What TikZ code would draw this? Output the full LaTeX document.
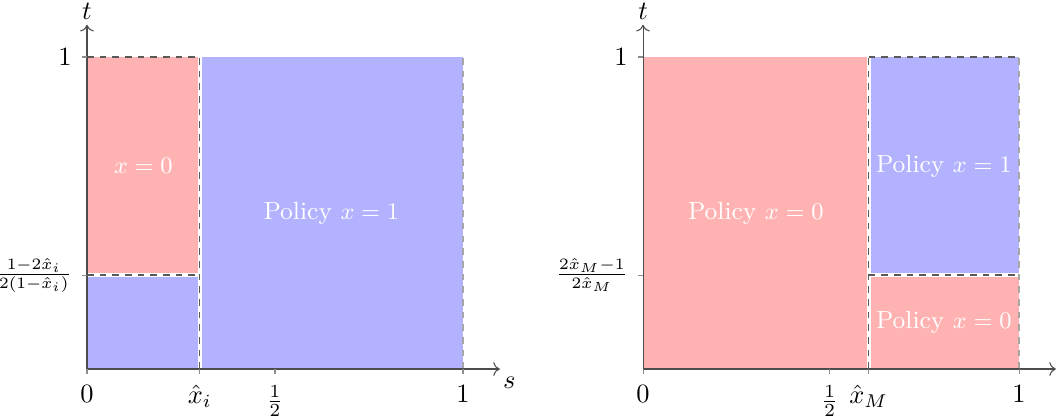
\documentclass[tikz,border=0pt]{standalone}
\usetikzlibrary{arrows.meta}

\begin{document}
\begin{tikzpicture}[x=5cm,y=4.149cm,
    redzone/.style={fill=red!30},
    bluezone/.style={fill=blue!30},
    gap/.style={white,line width=1.5pt},
    cut/.style={black!65,line width=0.45pt,dash pattern=on 2.5pt off 2.3pt},
    edge/.style={cut,black!35},
    axisline/.style={->,black!70,line width=0.4pt},
    tickmark/.style={black!45,line width=0.4pt},
    xlab/.style={anchor=north,inner sep=0pt,yshift=-6pt},
    ylab/.style={anchor=east,inner sep=0pt,xshift=-5.6pt},
    fraclab/.style={ylab,font=\fontsize{8.6pt}{10pt}\selectfont},
    policy/.style={white,font=\fontsize{9.4pt}{11pt}\selectfont}]
  \useasboundingbox (-1.157cm,-0.638cm) rectangle (12.939cm,4.907cm);

  % left panel: threshold x_i
  \begin{scope}
    \fill[bluezone] (0,0) rectangle (1,1);
    \fill[redzone] (0,0.301) rectangle (0.3,1);
    \draw[gap] (0.3,0) -- (0.3,1);
    \draw[gap] (0,0.301) -- (0.3,0.301);
    \foreach \p/\q in {{0,1}/{0.3,1},{0.3,0}/{0.3,1},{0,0.301}/{0.3,0.301}}
      \draw[cut] (\p) -- (\q);
    \draw[edge] (1,0) -- (1,1);
    \node[policy] (redL) at (0.15,0.65) {$x=0$};
    \node[policy] (blueL) at (0.65,0.5) {Policy $x=1$};
    \draw[axisline] (0,0) -- (1.098,0) coordinate (sTipL);
    \draw[axisline] (0,0) -- (0,1.103) coordinate (tTipL);
    \node[anchor=south,inner sep=2pt] (tLabL) at (tTipL) {$t$};
    \node[anchor=north west,inner sep=1pt,yshift=-2pt] (sLabL) at (sTipL) {$s$};
    \foreach \x in {0,0.3,0.5,1} \draw[tickmark] (\x,0) -- ++(0,-2pt);
    \foreach \y in {0.301,1} \draw[tickmark] (0,\y) -- ++(-2pt,0);
    \node[xlab] (zeroL) at (0,0) {$0$};
    \node[xlab] (xiL) at (0.3,0) {$\hat{x}_i$};
    \node[xlab] (halfL) at (0.5,0) {$\frac{1}{2}$};
    \node[xlab] (oneL) at (1,0) {$1$};
    \node[ylab] (topL) at (0,1) {$1$};
    \node[fraclab] (thrL) at (0,0.301) {$\frac{1-2\hat{x}_i}{2(1-\hat{x}_i)}$};
  \end{scope}

  % right panel: threshold x_M
  \begin{scope}[shift={(7.394cm,0)}]
    \fill[redzone] (0,0) rectangle (1,1);
    \fill[bluezone] (0.6,0.301) rectangle (1,1);
    \draw[gap] (0.6,0) -- (0.6,1);
    \draw[gap] (0.6,0.301) -- (1,0.301);
    \foreach \p/\q in {{0.6,1}/{1,1},{0.6,0}/{0.6,1},{0.6,0.301}/{1,0.301}}
      \draw[cut] (\p) -- (\q);
    \draw[edge] (1,0) -- (1,1);
    \node[policy] (redR) at (0.3,0.5) {Policy $x=0$};
    \node[policy] (blueR) at (0.8,0.65) {Policy $x=1$};
    \node[policy] (lowR) at (0.8,0.15) {Policy $x=0$};
    \draw[axisline] (0,0) -- (1.098,0) coordinate (sTipR);
    \draw[axisline] (0,0) -- (0,1.103) coordinate (tTipR);
    \node[anchor=south,inner sep=2pt] (tLabR) at (tTipR) {$t$};
    \node[anchor=north west,inner sep=1pt,yshift=-2pt] (sLabR) at (sTipR) {$s$};
    \foreach \x in {0,0.496,0.6,1} \draw[tickmark] (\x,0) -- ++(0,-2pt);
    \foreach \y in {0.301,1} \draw[tickmark] (0,\y) -- ++(-2pt,0);
    \node[xlab] (zeroR) at (0,0) {$0$};
    \node[xlab] (halfR) at (0.496,0) {$\frac{1}{2}$};
    \node[xlab] (xmR) at (0.6,0) {$\hat{x}_M$};
    \node[xlab] (oneR) at (1,0) {$1$};
    \node[ylab] (topR) at (0,1) {$1$};
    \node[fraclab] (thrR) at (0,0.301) {$\frac{2\hat{x}_M-1}{2\hat{x}_M}$};
  \end{scope}
\end{tikzpicture}
\end{document}
